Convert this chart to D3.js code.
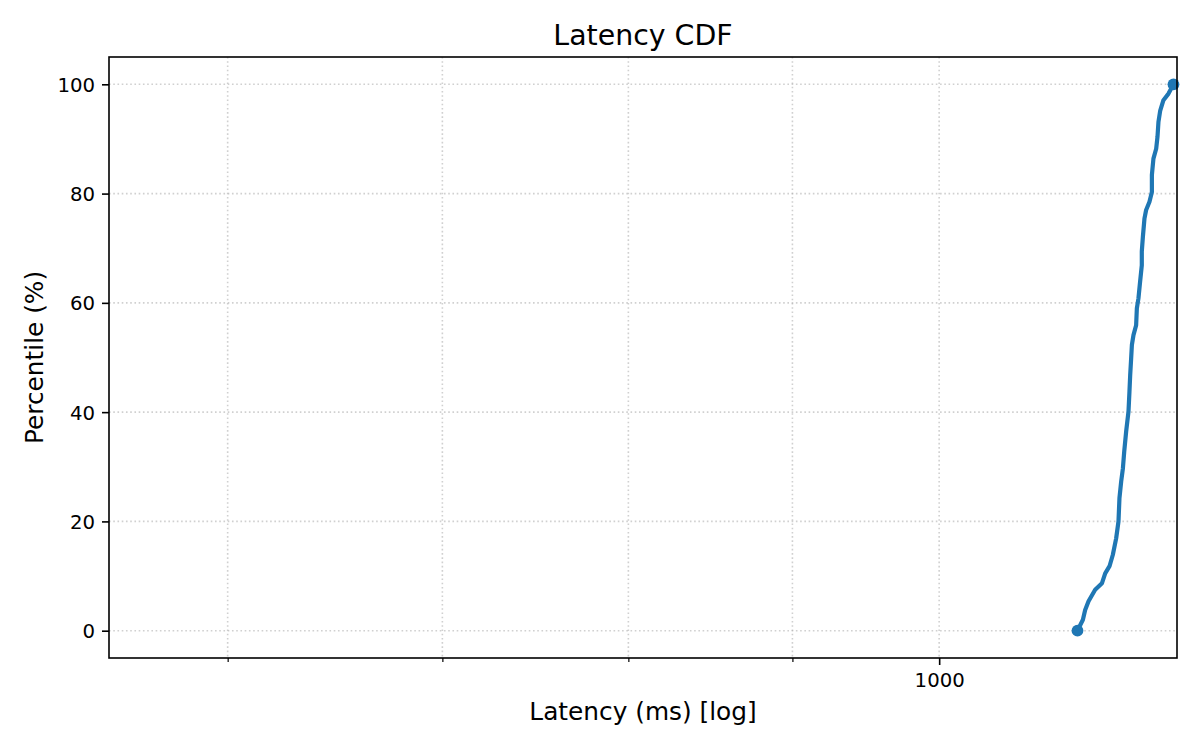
<!DOCTYPE html>
<html>
<head>
	<title>Latency CDF</title>
	<meta charset="utf-8">
	<script src="https://cdnjs.cloudflare.com/ajax/libs/d3/7.8.5/d3.min.js"></script>
	<style>
		body { margin: 0; background: #fff; }
		text { font-family: "DejaVu Sans", sans-serif; fill: #000; }
	</style>
</head>
<body>
	<script type="text/javascript">

		// data (sorted latencies and their percentile)
		let latencyMs = [1104.4, 1108.7, 1110.5, 1113.2, 1118.5, 1124.0, 1126.6, 1130.1, 1132.8, 1135.5,
			1137.4, 1138.2, 1139.6, 1141.0, 1142.1, 1143.7, 1145.6, 1146.4, 1147.0, 1147.8,
			1148.4, 1149.7, 1151.9, 1152.5, 1153.8, 1155.2, 1156.6, 1156.6, 1157.5, 1158.8,
			1160.2, 1163.0, 1165.0, 1165.0, 1166.3, 1168.6, 1169.7, 1170.5, 1172.0, 1174.7,
			1179.0, 1183.2];
		let percentile = [0, 2.0, 3.8, 5.4, 7.5, 8.7, 10.5, 11.8, 13.9, 16.9,
			20.0, 24.3, 27.3, 29.7, 32.8, 36.5, 40.1, 43.8, 46.8, 49.9,
			52.3, 54.1, 55.9, 59.0, 60.8, 63.9, 66.9, 69.4, 72.1, 75.4,
			77.0, 78.5, 80.3, 83.4, 86.4, 88.2, 90.4, 93.1, 95.2, 97.1,
			98.3, 100];

		let xMajorTicks = [1000];
		let xMinorTicks = [600, 700, 800, 900];
		let yTicks = [0, 20, 40, 60, 80, 100];
		let xDomain = [551, 1186.2];
		let yDomain = [-5, 105];

		let width = 1200, height = 750;
		let margin = {top: 57, right: 23, bottom: 92, left: 109};
		let innerW = width - margin.left - margin.right;
		let innerH = height - margin.top - margin.bottom;

		let svg = d3.select('body').append('svg')
			.attr('width', width)
			.attr('height', height);

		svg.append('rect')
			.attr('width', width)
			.attr('height', height)
			.attr('fill', '#fff');

		let x = d3.scaleLog().domain(xDomain).range([0, innerW]);
		let y = d3.scaleLinear().domain(yDomain).range([innerH, 0]);

		let g = svg.append('g')
			.attr('transform', 'translate(' + margin.left + ',' + margin.top + ')');

		//grid, dotted, on major and minor x ticks
		let gridStyle = function(sel) {
			sel.attr('stroke', '#b0b0b0')
				.attr('stroke-opacity', 0.6)
				.attr('stroke-width', 1.6)
				.attr('stroke-dasharray', '1.6,2.64');
		};

		g.selectAll('.vgrid').data(xMajorTicks.concat(xMinorTicks))
			.enter().append('line')
			.attr('class', 'vgrid')
			.attr('x1', d => x(d)).attr('x2', d => x(d))
			.attr('y1', 0).attr('y2', innerH)
			.call(gridStyle);

		g.selectAll('.hgrid').data(yTicks)
			.enter().append('line')
			.attr('class', 'hgrid')
			.attr('x1', 0).attr('x2', innerW)
			.attr('y1', d => y(d)).attr('y2', d => y(d))
			.call(gridStyle);

		//axes
		let xAxis = g.append('g')
			.attr('transform', 'translate(0,' + innerH + ')')
			.call(d3.axisBottom(x).tickValues(xMajorTicks).tickFormat(d3.format('d'))
				.tickSize(7).tickPadding(7));

		let xMinor = g.append('g')
			.attr('transform', 'translate(0,' + innerH + ')')
			.call(d3.axisBottom(x).tickValues(xMinorTicks).tickFormat('').tickSize(4));

		let yAxis = g.append('g')
			.call(d3.axisLeft(y).tickValues(yTicks).tickSize(7).tickPadding(7));

		[xAxis, xMinor, yAxis].forEach(function(a) {
			a.select('.domain').remove();
			a.selectAll('text')
				.style('font-family', '"DejaVu Sans", sans-serif')
				.style('font-size', '19.7px')
				.attr('fill', '#000');
		});
		xAxis.selectAll('line').attr('stroke', '#000').attr('stroke-width', 1.6);
		yAxis.selectAll('line').attr('stroke', '#000').attr('stroke-width', 1.6);
		xMinor.selectAll('line').attr('stroke', '#000').attr('stroke-width', 1.2);
		xAxis.selectAll('text').attr('dy', '0.76em');
		yAxis.selectAll('text').attr('dy', '0.36em');

		//cdf line
		let pts = latencyMs.map((v, i) => ({ms: v, p: percentile[i]}));

		let line = d3.line()
			.x(d => x(d.ms))
			.y(d => y(d.p));

		g.append('path')
			.datum(pts)
			.attr('d', line)
			.attr('fill', 'none')
			.attr('stroke', '#1f77b4')
			.attr('stroke-width', 4.2)
			.attr('stroke-linejoin', 'round');

		//markers at the ends
		g.selectAll('.endpt').data([pts[0], pts[pts.length - 1]])
			.enter().append('circle')
			.attr('class', 'endpt')
			.attr('cx', d => x(d.ms))
			.attr('cy', d => y(d.p))
			.attr('r', 5.9)
			.attr('fill', '#1f77b4');

		//frame
		g.append('rect')
			.attr('width', innerW)
			.attr('height', innerH)
			.attr('fill', 'none')
			.attr('stroke', '#000')
			.attr('stroke-width', 1.6);

		//texts
		svg.append('text')
			.attr('x', margin.left + innerW / 2)
			.attr('y', 45)
			.attr('text-anchor', 'middle')
			.style('font-size', '28.4px')
			.text('Latency CDF');

		svg.append('text')
			.attr('x', margin.left + innerW / 2)
			.attr('y', 720)
			.attr('text-anchor', 'middle')
			.style('font-size', '24.8px')
			.text('Latency (ms) [log]');

		svg.append('text')
			.attr('transform', 'translate(43,' + (margin.top + innerH / 2) + ') rotate(-90)')
			.attr('text-anchor', 'middle')
			.style('font-size', '24.8px')
			.text('Percentile (%)');

	</script>
</body>
</html>
